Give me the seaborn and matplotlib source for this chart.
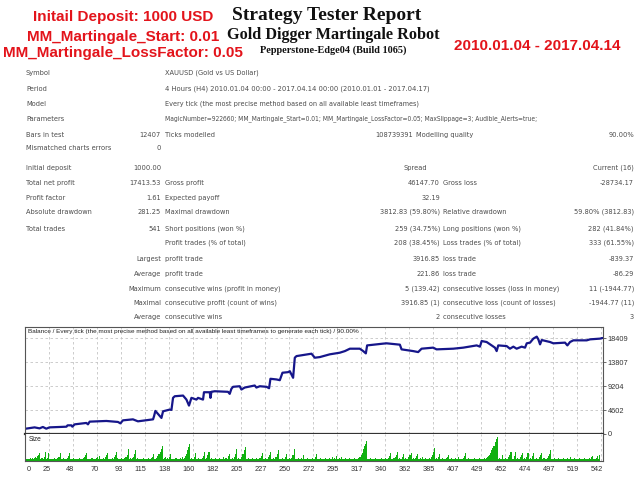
import numpy as np
import pandas as pd
import matplotlib
matplotlib.use("Agg")
import matplotlib.pyplot as plt
import matplotlib.font_manager as fm
import matplotlib.transforms as mtransforms
import seaborn as sns

# ---------------- data ----------------
bal_trade = [0, 9, 13.7, 16.8, 20, 23, 39, 40, 43.6, 44.5, 46.7, 57.7, 59.2, 60.8, 76.5, 87.4, 89.7, 92.1,
             101.5, 106.2, 120.4, 121.3, 122.6, 128.3, 129.8, 136, 137.7, 139.2, 140.8, 148.6, 151.8, 154.2,
             156.5, 161.2, 162.7, 167.4, 168.3, 173.7, 174.4, 175.3, 178.4, 190.9, 192.5, 194.1, 195.6, 201.9,
             203.5, 206.6, 216, 217.6, 220.8, 227.1, 229.5, 230.8, 236.5, 239.6, 242.1, 247.4, 249, 252.1,
             253.7, 255.3, 269.4, 272.5, 277.2, 286.6, 296, 300.8, 305.5, 314.8, 318, 320.5, 321.7, 336.8,
             340, 352.5, 354.1, 365, 369.7, 372.9, 383.8, 387, 402.7, 412.1, 424.7, 427.8, 429.4, 434.1,
             438.8, 441.9, 443.5, 445, 452.9, 456, 459.2, 462.3, 467, 470.2, 471.8, 474.9, 478, 481.2, 482.7,
             484.3, 485.9, 493.7, 496.8, 507.8, 510, 512.5, 515.6, 528.2, 531.3, 540.7, 543]
bal_value = [1000, 1270, 1080, 1350, 1020, 1270, 1400, 1660, 1660, 1400, 1850, 2120, 1850, 2370, 2500, 2310, 2040, 2620,
             2810, 2430, 2810, 3390, 4430, 3080, 4350, 4680, 4620, 6930, 7240, 7370, 6600, 5450,
             6930, 6600, 6930, 6600, 8010, 8010, 6930, 8090, 8200, 8090, 7700, 8670, 9050, 9160,
             8530, 8910, 9300, 8910, 9160, 9050, 8780, 10590, 10460, 10320, 11750, 11860, 12050, 10780,
             14630, 14940, 15400, 14630, 14750, 15280, 15590, 15900, 16360, 16360, 15900, 15460, 16990, 17330,
             17390, 17130, 16230, 15900, 15710, 16360, 16560, 16230, 16360, 16560, 16990, 16750, 17830, 17640,
             16990, 16560, 15900, 16990, 16860, 16360, 16750, 16360, 16750, 16560, 17390, 17520, 18290, 18670, 18150,
             17190, 18020, 17640, 17390, 17520, 16990, 17640, 17960, 17960, 18150, 18290, 18413]

lot_size = [1,1,1,1,1,2,1,2,1,2, 3,2,4,5,7,1,2,1,3,8,
            1,2,7,1,1,1,1,1,2,1, 1,2,3,7,1,1,2,1,1,1,
            2,4,7,1,1,1,2,1,1,1, 1,2,1,1,1,2,3,5,7,1,
            1,1,1,2,1,1,1,2,3,1, 4,1,1,1,2,1,3,5,7,1,
            1,1,2,1,3,5,8,2,1,1, 1,2,1,1,2,3,5,10,1,2,
            1,2,3,6,9,1,2,1,1,1, 1,2,1,1,1,1,2,1,1,2,
            3,6,1,1,2,4,6,8,10,13, 1,2,3,1,2,1,3,6,1,1,
            1,1,2,1,1,1,2,1,3,1, 2,4,6,9,12,15,1,2,1,3,
            7,1,1,2,1,1,1,2,4,8, 1,2,5,8,1,2,1,1,1,2,
            1,1,1,2,1,1,1,3,1,2, 1,4,6,1,1,2,1,3,6,10,
            1,2,1,1,3,6,9,12,1,1, 2,1,1,1,2,1,1,1,2,1,
            1,2,4,7,1,1,2,1,1,3, 5,8,1,1,2,1,3,6,9,1,
            1,1,2,1,1,3,6,1,1,2, 1,2,5,10,1,1,1,2,1,1,
            2,1,5,1,1,1,2,1,1,1, 2,1,1,3,6,1,1,1,2,1,
            1,1,1,2,1,1,2,1,1,3, 1,2,1,4,1,1,2,1,3,1,
            1,2,1,1,1,2,1,1,1,1, 2,1,1,1,2,3,5,7,10,13,
            15,17,1,1,1,2,1,1,1,1, 2,1,1,1,1,2,1,1,1,2,
            1,1,2,4,7,1,1,2,3,5, 8,1,2,1,1,3,6,1,2,1,
            1,3,5,7,1,2,1,2,4,6, 1,1,2,1,3,1,1,2,1,1,
            2,1,3,5,8,11,1,2,1,3, 6,1,1,2,1,1,2,3,5,1,
            1,2,1,1,1,2,1,1,3,1, 1,1,2,4,7,1,1,2,1,1,
            1,1,1,2,1,1,1,2,1,1, 1,1,2,1,2,3,4,5,7,9,
            11,13,16,19,21,1,2,1,1,5, 1,1,2,1,1,3,5,8,1,1,
            4,8,1,2,1,1,3,5,7,1, 2,1,3,7,1,2,1,4,7,1,
            1,2,1,1,3,5,7,1,2,1, 1,2,4,6,9,1,1,1,2,1,
            1,1,2,1,1,1,2,1,1,1, 2,1,1,3,1,1,1,2,1,1,
            1,2,1,1,1,1,2,1,1,1, 1,2,1,3,4,1,1,2,4,1,5]

x_tick_labels = ["0", "25", "48", "70", "93", "115", "138", "160", "182", "205", "227", "250", "272",
                 "295", "317", "340", "362", "385", "407", "429", "452", "474", "497", "519", "542"]
y_tick_values = [0, 4602, 9204, 13807, 18409]

# ---------------- fonts ----------------
names = {f.name for f in fm.fontManager.ttflist}
narrow = 'Liberation Sans Narrow' if 'Liberation Sans Narrow' in names else 'Liberation Sans'
SMALL = 'DejaVu Sans'
SERIF = 'Liberation Serif'

sns.set_theme(style="white")
plt.rcParams['font.family'] = ['Liberation Sans', 'DejaVu Sans']

W, H = 640, 480
fig = plt.figure(figsize=(6.4, 4.8), dpi=100)
fig.patch.set_facecolor('white')

def T(x, y, s, ha='left', size=5.35, color='#4c4c4c', family=SMALL, weight='normal', stretch='condensed'):
    fig.text(x / W, 1 - y / H, s, ha=ha, va='center', fontsize=size, color=color,
             family=[family, 'DejaVu Sans'], fontweight=weight, fontstretch=stretch)

RED = '#e3141b'
# header
T(123, 17, "Initail Deposit: 1000 USD", ha='center', size=11, color=RED, family=narrow, weight='bold', stretch='normal')
T(123, 37, "MM_Martingale_Start: 0.01", ha='center', size=11, color=RED, family=narrow, weight='bold', stretch='normal')
T(123, 53, "MM_Martingale_LossFactor: 0.05", ha='center', size=11, color=RED, family=narrow, weight='bold', stretch='normal')
T(537, 46, "2010.01.04 - 2017.04.14", ha='center', size=11, color=RED, family=narrow, weight='bold', stretch='normal')
T(327, 16, "Strategy Tester Report", ha='center', size=14, color='#111111', family=SERIF, weight='bold', stretch='normal')
T(333, 35, "Gold Digger Martingale Robot", ha='center', size=11.7, color='#111111', family=SERIF, weight='bold', stretch='normal')
T(333, 50, "Pepperstone-Edge04 (Build 1065)", ha='center', size=7.4, color='#111111', family=SERIF, weight='bold', stretch='normal')

# stats
L0, C1R, C2L, C2R, C3L, C3R = 26, 161, 165, 440, 443, 634
rows_a = [("Symbol", "XAUUSD (Gold vs US Dollar)", 73, 5.35),
          ("Period", "4 Hours (H4) 2010.01.04 00:00 - 2017.04.14 00:00 (2010.01.01 - 2017.04.17)", 89, 5.4),
          ("Model", "Every tick (the most precise method based on all available least timeframes)", 104, 5.25),
          ("Parameters", "MagicNumber=922660; MM_Martingale_Start=0.01; MM_Martingale_LossFactor=0.05; MaxSlippage=3; Audible_Alerts=true;", 119, 4.8)]
for lab, val, y, fs in rows_a:
    T(L0, y, lab)
    T(C2L, y, val, size=fs)
T(L0, 135, "Bars in test"); T(C1R, 135, "12407", ha='right')
T(C2L, 135, "Ticks modelled"); T(413, 135, "108739391", ha='right')
T(416, 135, "Modelling quality"); T(C3R, 135, "90.00%", ha='right')
T(L0, 148, "Mismatched charts errors"); T(C1R, 148, "0", ha='right')

T(L0, 168, "Initial deposit"); T(C1R, 168, "1000.00", ha='right')
T(403, 168, "Spread"); T(C3R, 168, "Current (16)", ha='right')

rows_b = [("Total net profit", "17413.53", "Gross profit", "46147.70", "Gross loss", "-28734.17", 183),
          ("Profit factor", "1.61", "Expected payoff", "32.19", "", "", 198),
          ("Absolute drawdown", "281.25", "Maximal drawdown", "3812.83 (59.80%)", "Relative drawdown", "59.80% (3812.83)", 212),
          ("Total trades", "541", "Short positions (won %)", "259 (34.75%)", "Long positions (won %)", "282 (41.84%)", 229),
          ("", "", "Profit trades (% of total)", "208 (38.45%)", "Loss trades (% of total)", "333 (61.55%)", 243)]
for a, b, c, d, e, f, y in rows_b:
    T(L0, y, a); T(C1R, y, b, ha='right'); T(C2L, y, c); T(C2R, y, d, ha='right')
    T(C3L, y, e); T(C3R, y, f, ha='right')

rows_c = [("Largest", "profit trade", "3916.85", "loss trade", "-839.37", 259),
          ("Average", "profit trade", "221.86", "loss trade", "-86.29", 274),
          ("Maximum", "consecutive wins (profit in money)", "5 (139.42)", "consecutive losses (loss in money)", "11 (-1944.77)", 289),
          ("Maximal", "consecutive profit (count of wins)", "3916.85 (1)", "consecutive loss (count of losses)", "-1944.77 (11)", 303),
          ("Average", "consecutive wins", "2", "consecutive losses", "3", 317)]
for a, c, d, e, f, y in rows_c:
    T(C1R, y, a, ha='right'); T(C2L, y, c); T(C2R, y, d, ha='right')
    T(C3L, y, e); T(C3R, y, f, ha='right')

# ---------------- chart ----------------
left, right = 25, 603
top, mid, bot = 327, 434, 461
ax1 = fig.add_axes([left / W, 1 - mid / H, (right - left) / W, (mid - top) / H])
ax2 = fig.add_axes([left / W, 1 - bot / H, (right - left) / W, (bot - mid) / H])

XMAX = 543.5
xt = [k * 542 / 24 for k in range(len(x_tick_labels))]
grid_kw = dict(color='#c4c4c4', linestyle=(0, (3, 3)), linewidth=0.6)

bal = pd.DataFrame({"trade": bal_trade, "balance": bal_value})
sns.lineplot(data=bal, x="trade", y="balance", ax=ax1, color='#16168a', linewidth=1.6, estimator=None)
ax1.set_xlim(0, XMAX)
ax1.set_ylim(0, 20520)
ax1.set_xticks(xt)
ax1.set_yticks(y_tick_values)
ax1.yaxis.tick_right()
ax1.set_yticklabels([str(v) for v in y_tick_values], fontsize=5.3, color='#333333')
ax1.tick_params(axis='y', length=2, pad=1.5, colors='#333333', width=0.5)
ax1.tick_params(axis='x', length=0, labelbottom=False)
ax1.set_xlabel(""); ax1.set_ylabel("")
ax1.grid(True, **grid_kw)
ax1.set_axisbelow(True)
for s in ['left', 'right', 'top']:
    ax1.spines[s].set_color('#555555'); ax1.spines[s].set_linewidth(0.8); ax1.spines[s].set_visible(True)
ax1.spines['bottom'].set_color('#333333'); ax1.spines['bottom'].set_linewidth(1.6)
ax1.text(0.006, 0.985, "Balance / Every tick (the most precise method based on all available least timeframes to generate each tick) / 90.00%",
         transform=ax1.transAxes, ha='left', va='top', fontsize=4.6, color='#222222')

sz = pd.DataFrame({"trade": np.arange(len(lot_size)), "size": lot_size})
sns.barplot(data=sz, x="trade", y="size", ax=ax2, native_scale=True, color='#10b010',
            saturation=1, width=1.0, errorbar=None, linewidth=0)
ax2.set_xlim(0, XMAX)
ax2.set_ylim(-0.4, 23.5)
ax2.set_yticks([])
ax2.set_xticks(xt)
ax2.set_xticklabels(x_tick_labels, fontsize=5.3, color='#333333')
ax2.tick_params(axis='x', length=2, pad=1.5, colors='#333333', width=0.5)
for lab in ax2.get_xticklabels():
    lab.set_horizontalalignment('right')
    lab.set_transform(lab.get_transform() + mtransforms.ScaledTranslation(1.5 / 100, 0, fig.dpi_scale_trans))
ax2.get_xticklabels()[0].set_horizontalalignment('left')
ax2.set_xlabel(""); ax2.set_ylabel("")
ax2.grid(True, axis='x', **grid_kw)
ax2.set_axisbelow(True)
for s in ['left', 'right', 'bottom']:
    ax2.spines[s].set_color('#555555'); ax2.spines[s].set_linewidth(0.8); ax2.spines[s].set_visible(True)
ax2.spines['top'].set_visible(False)
ax2.text(0.006, 0.93, "Size", transform=ax2.transAxes, ha='left', va='top', fontsize=4.8, color='#222222')

fig.savefig("out.png", dpi=100, facecolor='white')
